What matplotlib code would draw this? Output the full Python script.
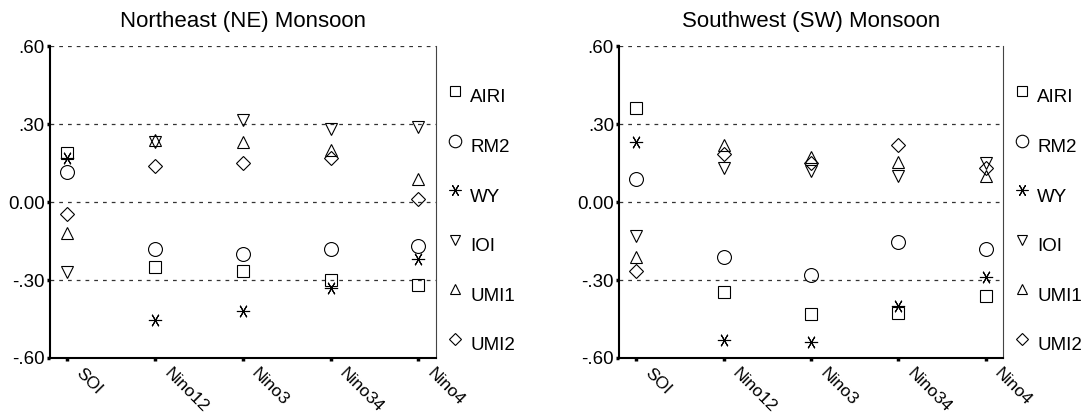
import numpy as np
import matplotlib.pyplot as plt
from matplotlib.transforms import ScaledTranslation

plt.rcParams['font.family'] = ['Liberation Sans', 'DejaVu Sans']

regions = ['SOI', 'Nino12', 'Nino3', 'Nino34', 'Nino4']
indices = ['AIRI', 'RM2', 'WY', 'IOI', 'UMI1', 'UMI2']

# correlations, one list per index (order follows regions)
ne_airi = [0.19, -0.25, -0.265, -0.30, -0.32]
ne_rm2 = [0.115, -0.18, -0.20, -0.18, -0.17]
ne_wy = [0.17, -0.455, -0.42, -0.33, -0.22]
ne_ioi = [-0.27, 0.23, 0.315, 0.28, 0.29]
ne_umi1 = [-0.12, 0.24, 0.23, 0.20, 0.09]
ne_umi2 = [-0.045, 0.14, 0.15, 0.17, 0.01]

sw_airi = [0.36, -0.345, -0.43, -0.425, -0.36]
sw_rm2 = [0.09, -0.21, -0.28, -0.155, -0.18]
sw_wy = [0.23, -0.53, -0.54, -0.40, -0.29]
sw_ioi = [-0.13, 0.13, 0.12, 0.10, 0.15]
sw_umi1 = [-0.21, 0.22, 0.175, 0.155, 0.10]
sw_umi2 = [-0.265, 0.185, 0.15, 0.22, 0.13]

yticks = [-0.6, -0.3, 0.0, 0.3, 0.6]
yticklabels = ['-.60', '-.30', '0.00', '.30', '.60']

markers = {'AIRI': ('s', 8), 'RM2': ('o', 10), 'WY': ((6, 2, 30), 9.5),
           'IOI': ('v', 8.6), 'UMI1': ('^', 8.6), 'UMI2': ('D', 7.2)}

fig = plt.figure(figsize=(10.86, 4.17), dpi=100)
ax1 = fig.add_axes([0.046, 0.1415, 0.3554, 0.748])
ax2 = fig.add_axes([0.570, 0.1415, 0.3536, 0.748])

panels = [
    (ax1, 'Northeast (NE) Monsoon', [ne_airi, ne_rm2, ne_wy, ne_ioi, ne_umi1, ne_umi2]),
    (ax2, 'Southwest (SW) Monsoon', [sw_airi, sw_rm2, sw_wy, sw_ioi, sw_umi1, sw_umi2]),
]

x = np.arange(len(regions))
leg_y = 0.856 - 0.159 * np.arange(len(indices))
shift = ScaledTranslation(12 / 72, 0, fig.dpi_scale_trans)

for ax, title, series in panels:
    for name, vals in zip(indices, series):
        m, s = markers[name]
        ax.plot(x, vals, linestyle='none', marker=m, markersize=s,
                markerfacecolor='none', markeredgecolor='black',
                markeredgewidth=0.8, zorder=3)

    for yv in [0.6, 0.3, 0.0, -0.3]:
        ax.axhline(yv, color='#333333', linestyle=(0, (3, 4)), linewidth=0.9, zorder=1)

    ax.set_xlim(-0.2, 4.2)
    ax.set_ylim(-0.6, 0.6)
    ax.set_yticks(yticks)
    ax.set_yticklabels(yticklabels, fontsize=13.5)
    ax.set_xticks(x)
    ax.tick_params(axis='both', length=2.2, width=2.5, direction='out')
    ax.tick_params(axis='y', pad=1.5)
    ax.tick_params(axis='x', pad=3)
    ax.set_xticklabels(regions, rotation=-45, ha='left', va='top',
                       rotation_mode='anchor', fontsize=12.5)
    # labels sit to the right of their ticks in the original
    for lab in ax.get_xticklabels():
        lab.set_transform(lab.get_transform() + shift)
    ax.set_title(title, fontsize=16, pad=14)

    ax.spines['left'].set_linewidth(1.5)
    ax.spines['bottom'].set_linewidth(1.5)
    ax.spines['top'].set_visible(False)
    ax.spines['right'].set_linewidth(0.8)
    ax.spines['right'].set_color('#444444')

    # hand-built legend to the right of the plot
    for name, ly in zip(indices, leg_y):
        m, s = markers[name]
        ax.plot([1.049], [ly], transform=ax.transAxes, clip_on=False,
                linestyle='none', marker=m, markersize=s * 0.9,
                markerfacecolor='none', markeredgecolor='black',
                markeredgewidth=0.8)
        ax.text(1.089, ly - 0.022, name, transform=ax.transAxes,
                fontsize=13.5, va='center', ha='left')

fig.savefig('out.png', dpi=100)
